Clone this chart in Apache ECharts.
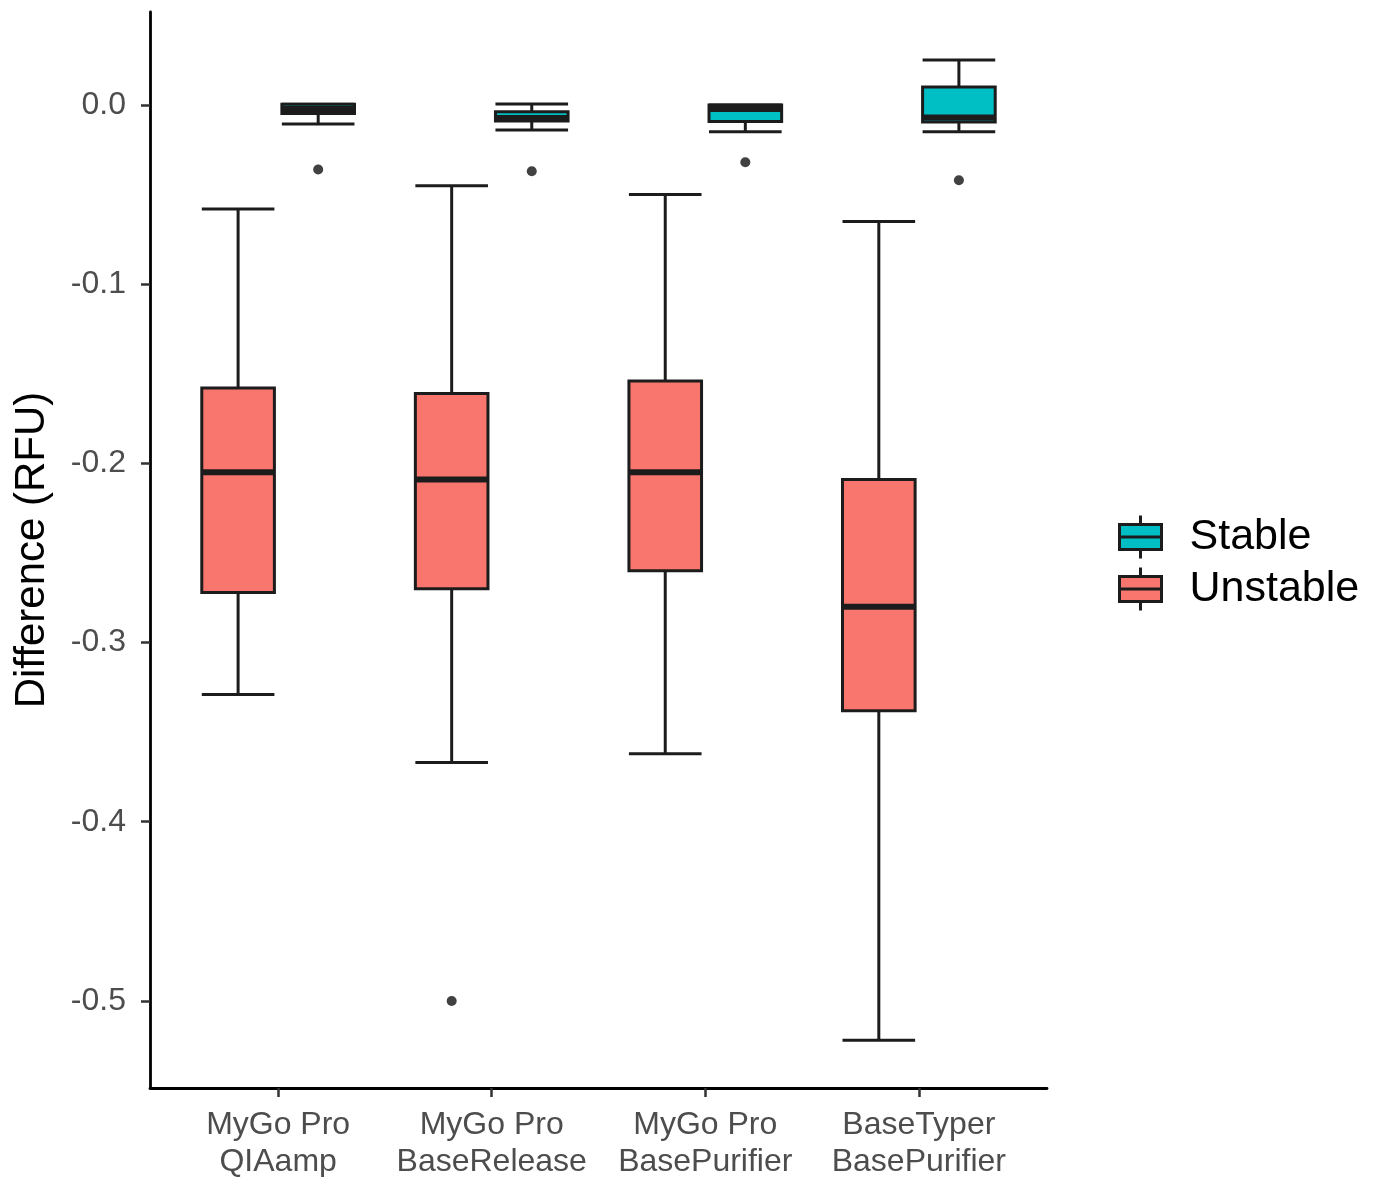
<!DOCTYPE html>
<html>
<head>
<meta charset="utf-8">
<script src="https://cdn.jsdelivr.net/npm/echarts@6/dist/echarts.min.js"></script>
<style>html,body{margin:0;padding:0;background:#fff;}#c{width:1377px;height:1177px;}</style>
</head>
<body>
<div id="c"></div>
<script>
// ---- data ----
const categories = ['MyGo Pro\nQIAamp', 'MyGo Pro\nBaseRelease', 'MyGo Pro\nBasePurifier', 'BaseTyper\nBasePurifier'];
// [lowerWhisker, Q1, median, Q3, upperWhisker]
const unstableStats = [
  [-0.329, -0.272, -0.205, -0.158, -0.058],
  [-0.367, -0.270, -0.209, -0.161, -0.045],
  [-0.362, -0.260, -0.205, -0.154, -0.050],
  [-0.522, -0.338, -0.280, -0.209, -0.065]
];
const stableStats = [
  [-0.0106, -0.0048, -0.0022, 0.0004, 0.0004],
  [-0.0140, -0.0089, -0.0072, -0.0038, 0.0006],
  [-0.0149, -0.0092, -0.0022, 0.0000, 0.0000],
  [-0.0149, -0.0095, -0.0070, 0.0100, 0.0251]
];
const unstableOutliers = [[], [-0.500], [], []];
const stableOutliers = [[-0.036], [-0.037], [-0.032], [-0.042]];
const yTicks = [0, -0.1, -0.2, -0.3, -0.4, -0.5];
const seriesNames = ['Stable', 'Unstable'];

// ---- styling ----
const COLORS = { Stable: '#00BFC4', Unstable: '#F8766D' };
const DODGE = 0.1875;
const BOX_W = 0.34;
const EDGE = '#1c1c1c';

function boxData(stats, offset) {
  return stats.map((s, i) => [i + 1 + offset].concat(s));
}
function outlierData(outs, offset) {
  const res = [];
  outs.forEach((arr, i) => arr.forEach(v => res.push([i + 1 + offset, v])));
  return res;
}
function renderBox(color) {
  return function (params, api) {
    const x = api.value(0);
    const lo = api.coord([x, api.value(1)]);
    const q1 = api.coord([x, api.value(2)]);
    const md = api.coord([x, api.value(3)]);
    const q3 = api.coord([x, api.value(4)]);
    const hi = api.coord([x, api.value(5)]);
    const hw = api.size([BOX_W, 0])[0] / 2;
    const cx = lo[0];
    const lineStyle = { stroke: EDGE, lineWidth: 3 };
    return {
      type: 'group',
      children: [
        { type: 'line', shape: { x1: cx, y1: hi[1], x2: cx, y2: q3[1] }, style: lineStyle },
        { type: 'line', shape: { x1: cx, y1: q1[1], x2: cx, y2: lo[1] }, style: lineStyle },
        { type: 'line', shape: { x1: cx - hw, y1: hi[1], x2: cx + hw, y2: hi[1] }, style: lineStyle },
        { type: 'line', shape: { x1: cx - hw, y1: lo[1], x2: cx + hw, y2: lo[1] }, style: lineStyle },
        { type: 'rect', shape: { x: cx - hw, y: q3[1], width: 2 * hw, height: q1[1] - q3[1] },
          style: { fill: color, stroke: EDGE, lineWidth: 3 } },
        { type: 'line', shape: { x1: cx - hw, y1: md[1], x2: cx + hw, y2: md[1] },
          style: { stroke: EDGE, lineWidth: 6 } }
      ]
    };
  };
}

const legendIcon = 'path://M21,0 L21,9 M0,9 L42,9 L42,34 L0,34 Z M0,21.5 L42,21.5 M21,34 L21,43';

const chart = echarts.init(document.getElementById('c'), null, { renderer: 'canvas' });
chart.setOption({
  backgroundColor: '#ffffff',
  animation: false,
  textStyle: { fontFamily: 'Liberation Sans, Arial, sans-serif' },
  grid: { left: 150, right: 330, top: 12, bottom: 89, outerBoundsMode: 'none', containLabel: false },
  legend: {
    orient: 'vertical',
    left: 1113,
    top: 509,
    itemWidth: 42,
    itemHeight: 43,
    itemGap: 6,
    data: seriesNames.map(n => ({
      name: n,
      icon: legendIcon,
      itemStyle: { color: COLORS[n], borderColor: EDGE, borderWidth: 3 }
    })),
    textStyle: { fontSize: 43, color: '#000', padding: [0, 0, 0, 23], fontFamily: 'Liberation Sans, Arial, sans-serif' }
  },
  xAxis: {
    type: 'value',
    min: 0.4,
    max: 4.6,
    splitLine: { show: false },
    axisLine: { show: true, onZero: false, lineStyle: { color: '#000', width: 2.8 } },
    axisTick: { show: true, customValues: [1, 2, 3, 4], length: 9, lineStyle: { color: '#333', width: 2.5 } },
    axisLabel: {
      customValues: [1, 2, 3, 4],
      formatter: v => categories[Math.round(v) - 1] || '',
      fontSize: 32,
      lineHeight: 37,
      color: '#4D4D4D',
      margin: 19
    }
  },
  yAxis: {
    type: 'value',
    min: -0.5486,
    max: 0.0519,
    name: 'Difference (RFU)',
    nameLocation: 'middle',
    nameGap: 97,
    nameTextStyle: { fontSize: 42, color: '#000' },
    splitLine: { show: false },
    axisLine: { show: true, onZero: false, lineStyle: { color: '#000', width: 2.8 } },
    axisTick: { show: true, customValues: yTicks, length: 9, lineStyle: { color: '#333', width: 2.5 } },
    axisLabel: {
      customValues: yTicks,
      formatter: v => v.toFixed(1),
      fontSize: 32,
      color: '#4D4D4D',
      margin: 24
    }
  },
  series: [
    {
      name: 'Stable', type: 'custom',
      itemStyle: { color: COLORS.Stable },
      renderItem: renderBox(COLORS.Stable),
      encode: { x: 0, y: [1, 2, 3, 4, 5] },
      data: boxData(stableStats, DODGE),
      z: 2
    },
    {
      name: 'Unstable', type: 'custom',
      itemStyle: { color: COLORS.Unstable },
      renderItem: renderBox(COLORS.Unstable),
      encode: { x: 0, y: [1, 2, 3, 4, 5] },
      data: boxData(unstableStats, -DODGE),
      z: 2
    },
    {
      name: 'Stable', type: 'scatter', symbolSize: 10,
      itemStyle: { color: '#111' },
      data: outlierData(stableOutliers, DODGE), z: 3
    },
    {
      name: 'Unstable', type: 'scatter', symbolSize: 10,
      itemStyle: { color: '#111' },
      data: outlierData(unstableOutliers, -DODGE), z: 3
    }
  ]
});
</script>
</body>
</html>
